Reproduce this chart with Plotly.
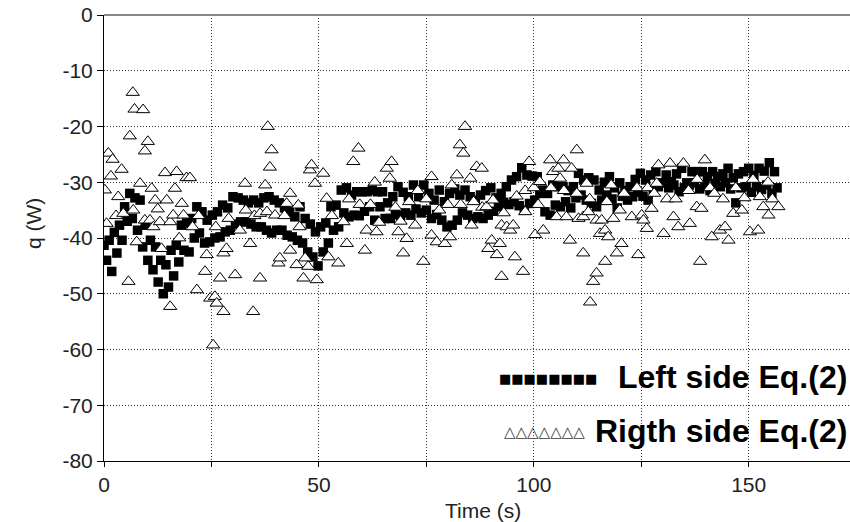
import plotly.graph_objects as go

# ---------------- data ----------------
# Left side of Eq.(2): samples alternate between two interleaved tracks
left_track_a = [  # samples at t = 0, 1.2, 2.4, ... s
    -41.3, -40.4, -39.0, -37.7, -34.4, -32.0, -32.8, -33.2, -37.7, -40.4,
    -41.6, -44.0, -44.8, -42.2, -41.3, -37.7, -37.3, -36.5, -34.4, -35.3,
    -36.8, -35.9, -35.3, -34.1, -34.6, -32.6, -32.8, -33.2, -33.7, -33.2,
    -33.7, -32.8, -32.6, -33.2, -33.7, -34.6, -35.3, -36.2, -34.4, -36.5,
    -37.5, -38.9, -38.0, -37.3, -34.4, -34.1, -31.4, -31.0, -32.3, -31.7,
    -31.7, -31.7, -31.4, -31.7, -31.7, -33.7, -32.6, -30.8, -31.8, -32.6,
    -30.5, -32.6, -30.5, -32.0, -33.2, -31.4, -33.5, -32.0, -31.2, -32.3,
    -31.4, -32.6, -33.2, -32.3, -31.5, -31.0, -32.8, -32.0, -30.8, -29.6,
    -29.0, -27.4, -28.7, -28.9, -29.0, -31.4, -32.0, -30.5, -30.8, -30.8,
    -31.5, -30.8, -28.4, -29.6, -29.2, -29.6, -31.4, -30.0, -29.0, -31.0,
    -30.1, -31.5, -30.8, -29.5, -28.4, -29.6, -28.7, -28.1, -30.1, -28.7,
    -29.9, -28.5, -27.5, -30.1, -28.1, -28.1, -28.1, -29.0, -28.1, -29.0,
    -28.5, -27.5, -29.2, -28.5, -28.1, -27.5, -28.8, -27.5, -28.0, -26.5,
    -28.1,
]
left_track_b = [  # samples at t = 0.6, 1.8, 3.0, ... s
    -44.0, -46.0, -42.7, -40.4, -37.0, -36.5, -38.6, -41.6, -44.0, -45.7,
    -47.9, -50.0, -48.8, -46.8, -44.3, -42.2, -42.5, -40.0, -39.1, -40.9,
    -40.7, -40.0, -39.8, -38.9, -38.6, -37.5, -37.1, -37.1, -37.5, -38.0,
    -38.0, -38.6, -39.1, -38.6, -38.6, -39.5, -39.8, -40.4, -40.9, -42.5,
    -43.4, -45.0, -42.5, -40.9, -38.6, -38.0, -35.5, -36.2, -35.9, -36.0,
    -35.2, -34.4, -36.8, -34.4, -36.5, -36.5, -35.8, -36.0, -35.5, -35.9,
    -34.8, -35.5, -35.0, -36.5, -35.8, -36.8, -38.0, -37.7, -36.8, -35.5,
    -35.9, -36.5, -36.2, -36.5, -35.9, -35.2, -34.4, -33.6, -34.0, -33.5,
    -34.2, -35.0, -33.8, -33.2, -32.0, -35.3, -35.9, -34.1, -34.4, -33.5,
    -34.6, -32.8, -32.3, -33.2, -33.8, -34.4, -33.2, -32.3, -33.0, -34.6,
    -32.5, -33.2, -32.6, -31.8, -32.5, -33.2, -31.5, -30.8, -30.1, -31.0,
    -30.5, -31.7, -31.0, -30.5, -30.1, -31.2, -30.5, -31.5, -30.2, -30.8,
    -30.1, -31.2, -33.7, -31.0, -30.8, -31.8, -30.8, -31.3, -30.5, -32.0,
    -31.0,
]
SAMPLE_STEP = 1.2  # s between samples of one track
left_time = []
left_q = []
for i in range(len(left_track_a)):
    left_time.append(round(i * SAMPLE_STEP, 1))
    left_q.append(left_track_a[i])
    if i < len(left_track_b):
        left_time.append(round(i * SAMPLE_STEP + SAMPLE_STEP / 2, 1))
        left_q.append(left_track_b[i])

# Right side of Eq.(2)
right_time = [
    0.2, 0.6, 1.0, 1.6, 2.0, 2.8, 3.3, 4.1, 4.5, 5.7, 6.0, 6.7, 6.8, 7.1, 7.6,
    8.4, 9.1, 9.5, 9.5, 10.2, 10.7, 11.1, 11.5, 11.9, 12.5, 13.0, 13.4, 14.2,
    14.6, 15.4, 15.4, 16.1, 16.5, 16.9, 17.5, 18.1, 18.5, 19.2, 20.0, 20.6,
    21.6, 22.0, 23.5, 23.9, 24.7, 25.4, 25.8, 26.0, 26.2, 27.0, 27.8, 27.8,
    28.5, 29.0, 30.5, 31.6, 32.8, 33.0, 34.0, 34.7, 35.0, 36.3, 36.3, 37.5,
    37.9, 38.1, 38.6, 39.0, 39.8, 40.6, 40.9, 42.0, 42.5, 43.3, 43.3, 44.8,
    45.2, 45.5, 46.4, 46.8, 47.5, 47.9, 48.3, 49.1, 49.5, 51.0, 51.8, 52.2,
    53.0, 54.5, 55.7, 56.5, 57.0, 58.0, 59.2, 59.5, 60.7, 61.1, 62.0, 63.0,
    63.4, 64.0, 65.8, 66.5, 66.9, 67.8, 68.5, 69.0, 69.6, 70.4, 71.0, 72.4,
    73.0, 74.3, 75.0, 76.2, 76.2, 77.4, 78.0, 79.3, 80.0, 80.5, 80.9, 82.1,
    82.8, 83.0, 83.6, 84.0, 85.2, 85.5, 86.0, 86.7, 87.9, 88.0, 89.0, 89.4,
    90.2, 90.5, 91.4, 92.1, 92.5, 92.5, 93.0, 93.7, 94.5, 95.2, 95.6, 96.0,
    97.5, 98.0, 98.0, 98.9, 100.0, 100.3, 101.0, 101.4, 102.2, 103.8, 104.0,
    104.5, 105.3, 105.7, 106.1, 106.9, 107.0, 107.6, 108.4, 108.8, 110.0,
    110.0, 110.4, 111.5, 111.5, 112.3, 112.7, 113.0, 113.1, 113.8, 114.6,
    114.6, 115.4, 115.8, 116.6, 116.6, 117.0, 117.3, 118.0, 118.5, 119.3,
    120.0, 120.4, 121.0, 122.8, 124.0, 124.3, 125.1, 125.5, 126.3, 126.5,
    127.4, 128.0, 128.6, 129.0, 130.2, 131.0, 131.7, 132.5, 133.0, 133.6,
    134.8, 136.0, 136.3, 137.9, 138.0, 138.7, 139.0, 139.8, 141.0, 141.4,
    142.0, 143.3, 144.0, 144.5, 145.3, 146.4, 147.0, 148.4, 149.0, 150.3,
    151.0, 152.2, 152.6, 153.4, 154.5, 154.6, 155.5, 156.9,
]
right_q = [
    -31.4, -37.4, -24.8, -28.9, -25.9, -36.0, -32.6, -27.7, -35.6, -47.8, -21.7, -13.9, -35.0, -16.9, -40.7,
    -30.2, -17.0, -24.4, -36.8, -22.7, -36.8, -31.1, -38.0, -33.2, -34.8, -37.1, -41.9, -28.3,
    -33.2, -37.1, -52.3, -35.9, -31.1, -28.1, -40.0, -33.8, -35.9, -29.2, -29.2, -38.0,
    -49.3, -36.0, -46.0, -43.0, -50.8, -59.2, -50.5, -38.0, -51.7, -47.2, -42.7, -53.2,
    -41.9, -36.5, -46.6, -38.6, -30.2, -35.0, -41.0, -53.2, -36.0, -35.6, -47.2, -30.5,
    -35.3, -20.0, -27.3, -24.2, -35.9, -44.5, -43.6, -36.0, -33.8, -32.0, -42.2, -44.8,
    -34.1, -38.0, -47.2, -43.6, -45.1, -27.8, -26.9, -30.2, -47.5, -28.4, -32.9, -43.4,
    -36.0, -44.5, -37.1, -41.0, -33.0, -26.3, -23.9, -34.0, -42.2, -38.6, -34.0, -30.0,
    -38.9, -37.2, -27.5, -29.3, -26.3, -34.5, -38.9, -37.0, -42.7, -40.1, -33.5, -37.7,
    -31.5, -44.2, -33.0, -29.0, -39.5, -40.7, -35.0, -41.0, -34.0, -39.8, -30.5, -28.7,
    -23.3, -34.0, -24.8, -20.0, -29.3, -37.7, -33.5, -27.2, -27.5, -34.5, -34.4, -41.9,
    -40.4, -33.2, -43.0, -41.0, -37.7, -46.9, -35.5, -38.0, -38.6, -37.7, -43.4, -32.5,
    -46.0, -35.3, -31.5, -26.3, -31.0, -39.4, -34.0, -29.9, -38.6, -26.0, -31.0,
    -28.1, -36.2, -27.5, -29.3, -26.0, -31.5, -36.2, -40.4, -27.5, -24.2,
    -32.0, -36.5, -36.2, -42.7, -30.2, -35.3, -33.0, -51.5, -47.8, -46.3,
    -36.8, -39.2, -36.8, -38.6, -44.2, -33.5, -39.8, -30.5, -36.5, -42.7,
    -35.0, -41.0, -32.0, -36.2, -31.0, -43.0, -35.9, -36.8, -38.3, -31.0,
    -34.7, -32.0, -30.2, -26.9, -39.2, -33.0, -26.6, -36.2, -33.0, -38.0,
    -26.6, -31.5, -37.4, -34.4, -29.5, -44.2, -34.7, -26.0, -31.0, -39.8,
    -32.0, -38.6, -33.0, -38.0, -40.4, -35.6, -31.0, -35.0, -32.8, -38.9,
    -29.5, -38.6, -32.6, -34.4, -30.0, -35.9, -33.0, -34.4,
]

x_tick_values = [0, 25, 50, 75, 100, 125, 150, 175]
x_tick_text = ["0", "", "50", "", "100", "", "150", ""]
y_tick_values = [0, -10, -20, -30, -40, -50, -60, -70, -80]
y_tick_text = ["0", "-10", "-20", "-30", "-40", "-50", "-60", "-70", "-80"]
x_title = "Time (s)"
y_title = "q (W)"
legend_left = "Left side Eq.(2)"
legend_right = "Rigth side Eq.(2)"

# ---------------- figure ----------------
FONT = "Arial, Liberation Sans, sans-serif"

fig = go.Figure()
fig.add_trace(go.Scatter(
    x=left_time, y=left_q, mode="markers", name=legend_left,
    marker=dict(symbol="square", size=9.5, color="black", line=dict(width=0)),
    showlegend=False,
))
fig.add_trace(go.Scatter(
    x=right_time, y=right_q, mode="markers", name=legend_right,
    marker=dict(symbol="triangle-up", size=11.5, color="white",
                line=dict(color="black", width=1)),
    showlegend=False,
))

L, R, T, B = 104, 0, 15, 61
W, H = 850, 522
pw, ph = W - L - R, H - T - B


def px(xp):
    return (xp - L) / pw


def py(yp):
    return (H - B - yp) / ph


annotations = [
    dict(text="■■■■■■■■", x=px(599), y=py(378), xref="paper", yref="paper",
         xanchor="right", yanchor="middle", showarrow=False,
         font=dict(family="DejaVu Sans", size=13, color="black")),
    dict(text="<b>" + legend_left + "</b>", x=px(848), y=py(377), xref="paper",
         yref="paper", xanchor="right", yanchor="middle", showarrow=False,
         borderpad=0, font=dict(family=FONT, size=32, color="black")),
    dict(text="△△△△△△△", x=px(587), y=py(432), xref="paper", yref="paper",
         xanchor="right", yanchor="middle", showarrow=False,
         font=dict(family="DejaVu Sans", size=15, color="#3a3a3a")),
    dict(text="<b>" + legend_right + "</b>", x=px(848), y=py(431), xref="paper",
         yref="paper", xanchor="right", yanchor="middle", showarrow=False,
         borderpad=0, font=dict(family=FONT, size=32, color="black")),
    dict(text=x_title, x=px(483), y=py(510), xref="paper", yref="paper",
         xanchor="center", yanchor="middle", showarrow=False,
         font=dict(family=FONT, size=21, color="#222222")),
    dict(text=y_title, x=px(33), y=py(224), xref="paper", yref="paper",
         xanchor="center", yanchor="middle", showarrow=False, textangle=-90,
         font=dict(family=FONT, size=21, color="#222222")),
]

GRID = dict(showgrid=True, gridcolor="#333333", griddash="1px,2px", gridwidth=1)

fig.update_layout(
    width=W, height=H,
    margin=dict(l=L, r=R, t=T, b=B, pad=0, autoexpand=False),
    paper_bgcolor="white", plot_bgcolor="white",
    font=dict(family=FONT, size=21, color="#222222"),
    annotations=annotations,
    xaxis=dict(
        range=[0, pw / 4.298], tickmode="array", tickvals=x_tick_values,
        ticktext=x_tick_text, ticks="outside", ticklen=5, tickcolor="black",
        showline=True, linecolor="black", linewidth=1, zeroline=False,
        automargin=False, tickfont=dict(size=21, color="#222222"), **GRID,
    ),
    yaxis=dict(
        range=[-80, 0], tickmode="array", tickvals=y_tick_values,
        ticktext=y_tick_text, ticks="outside", ticklen=6, tickcolor="black",
        showline=True, linecolor="black", linewidth=1,
        zeroline=True, zerolinecolor="#888888", zerolinewidth=2,
        automargin=False, tickfont=dict(size=21, color="#222222"), **GRID,
    ),
)

fig.write_html(
    "out.html",
    config={"displayModeBar": False},
    post_script="document.body.style.margin='0';document.body.style.overflow='hidden';",
)
